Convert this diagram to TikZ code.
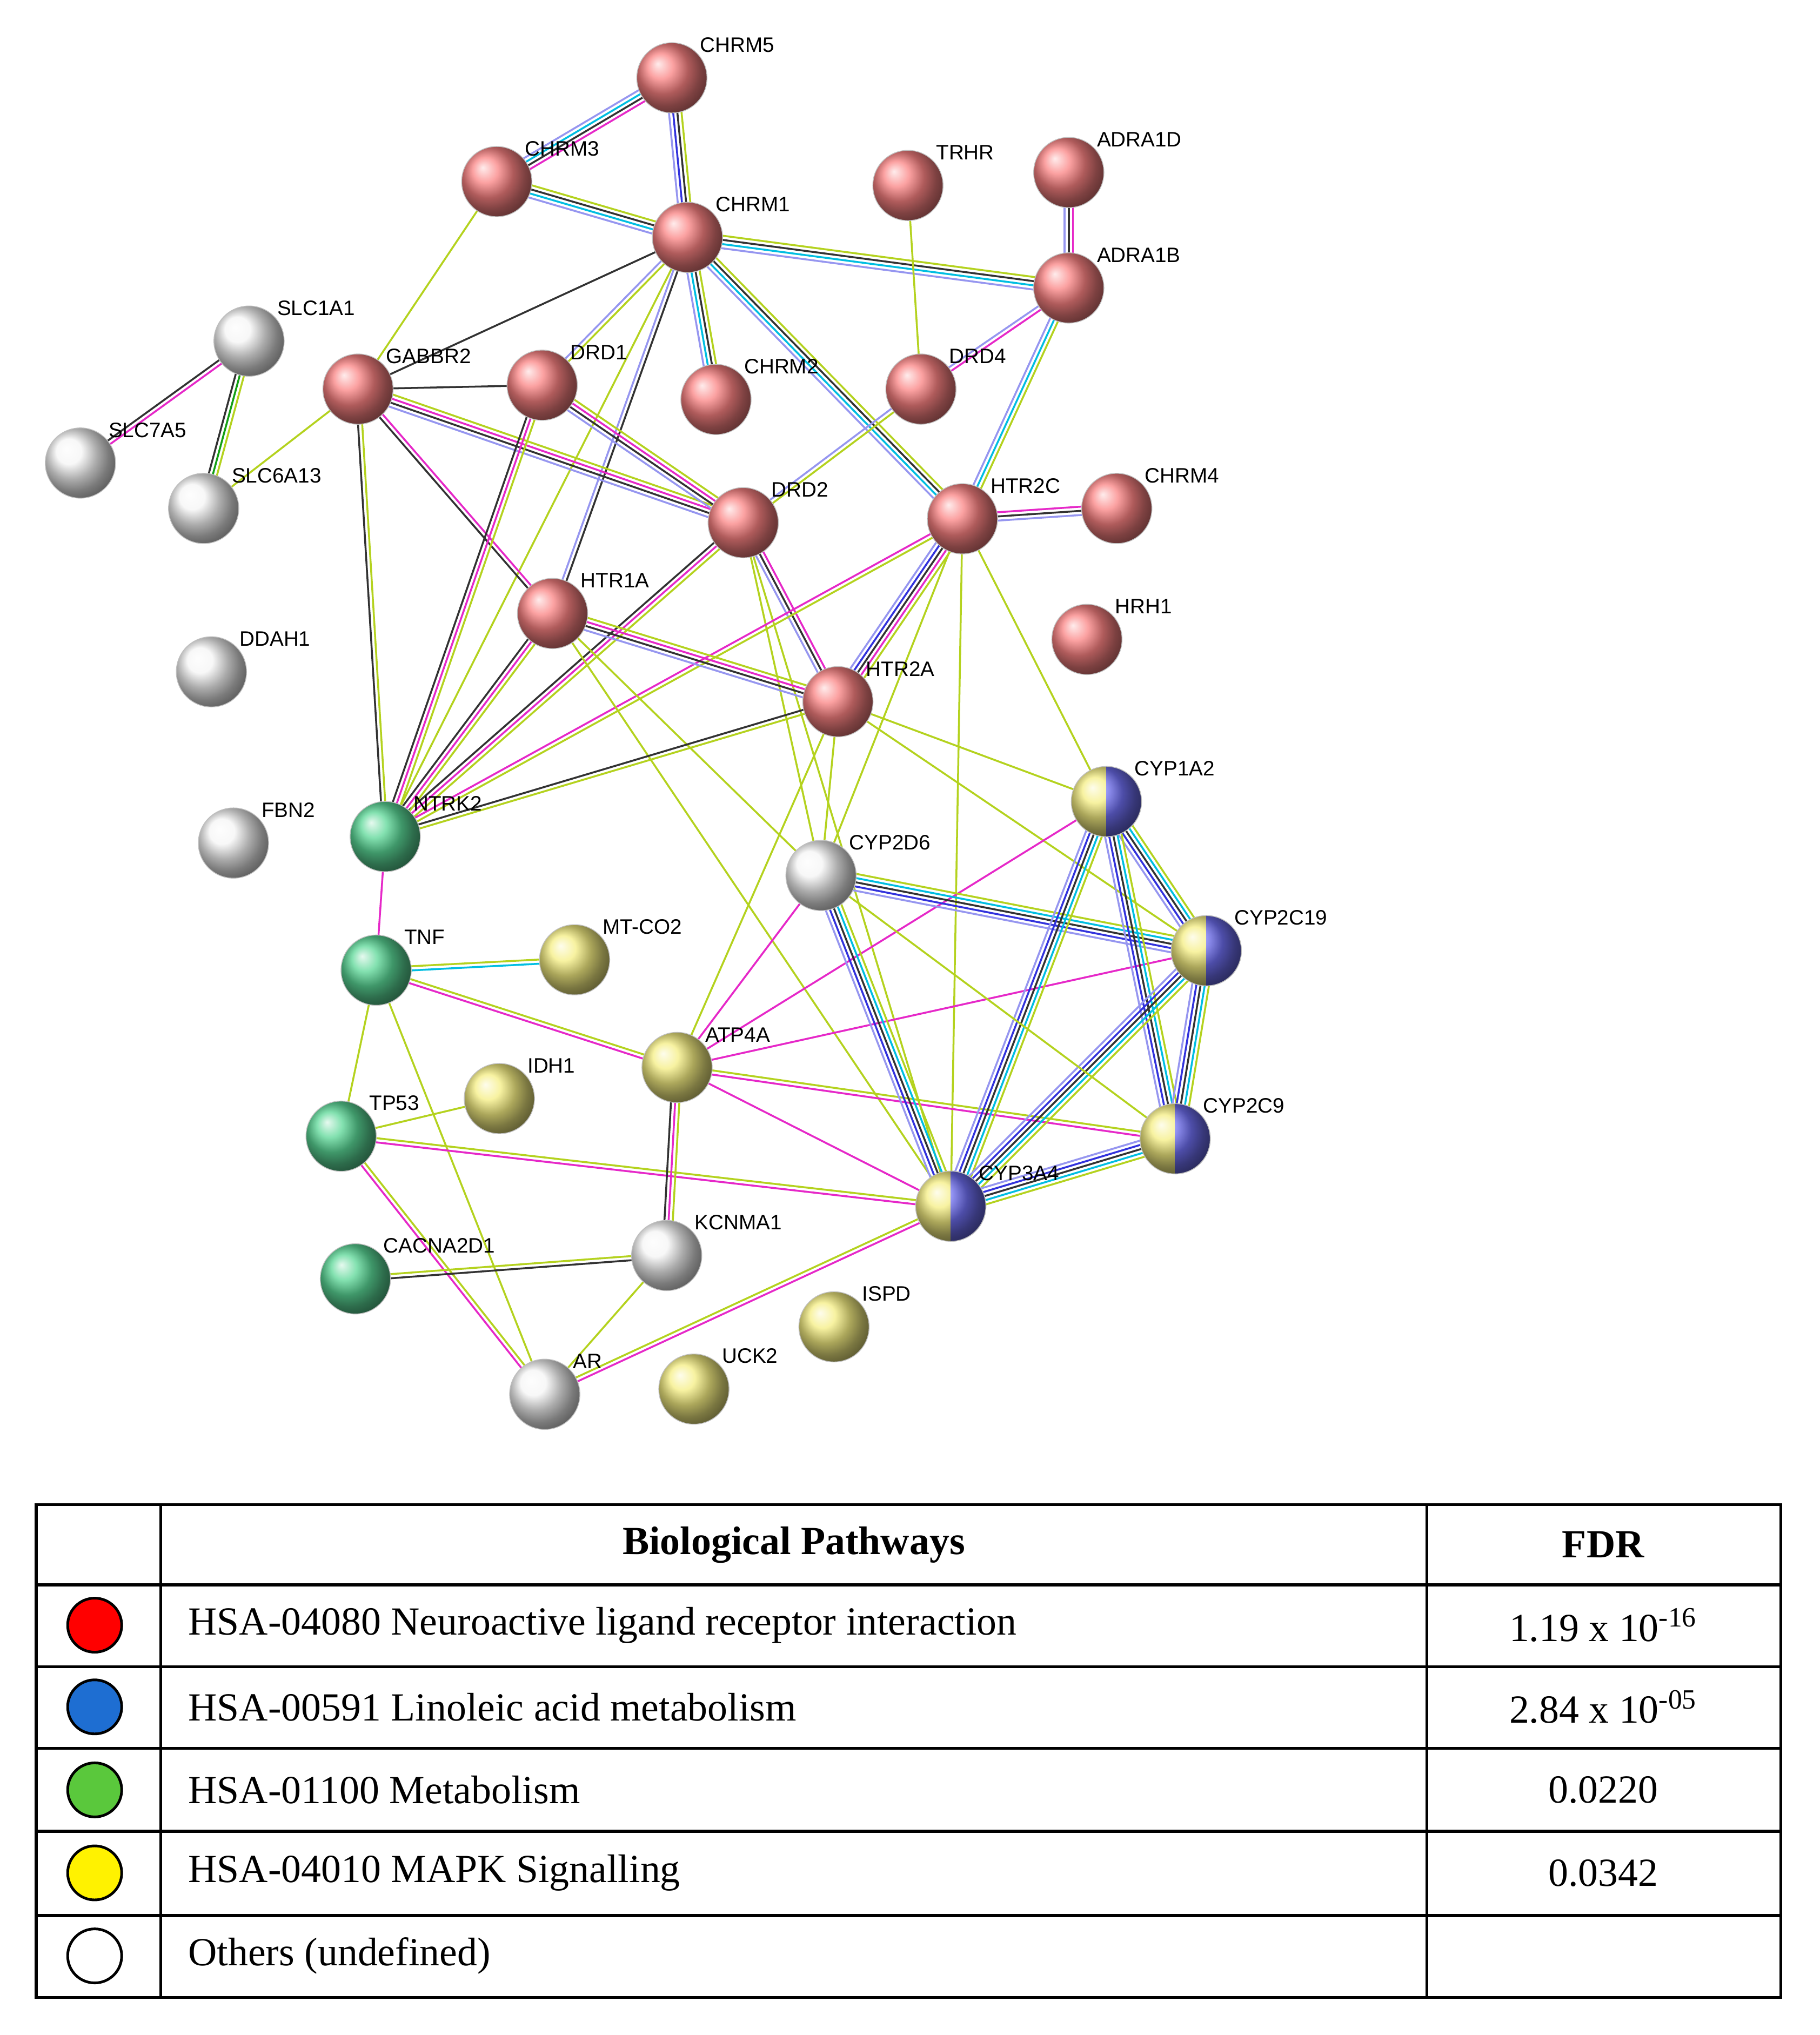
\documentclass[tikz,border=0pt]{standalone}
\usepackage{fontspec}
\setmainfont{Liberation Serif}
\newfontfamily\lblfont{Liberation Sans}
\usetikzlibrary{calc}
\definecolor{yg}{RGB}{180,210,30}
\definecolor{dk}{RGB}{50,50,50}
\definecolor{mg}{RGB}{230,40,200}
\definecolor{cy}{RGB}{0,190,225}
\definecolor{bl}{RGB}{50,50,220}
\definecolor{lv}{RGB}{150,150,240}
\definecolor{gr}{RGB}{20,160,20}
\definecolor{rd}{RGB}{250,130,130}
\definecolor{gn}{RGB}{90,215,150}
\definecolor{ye}{RGB}{245,238,130}
\definecolor{bu}{RGB}{110,110,240}
\definecolor{wh}{RGB}{245,245,245}
\newcommand{\E}[3]{\foreach \o/\c in {#3}{\draw[\c,line width=1pt] ($(#1)!\o pt!90:(#2)$) -- ($(#2)!\o pt!-90:(#1)$);}}
\newcommand{\EY}[2]{\E{#1}{#2}{-4.4/lv,-2.2/bl,0/dk,2.2/cy,4.4/yg}}
\begin{document}
\begin{tikzpicture}[x=0.024cm,y=-0.024cm,
  prot/.style={circle,minimum size=1.3cm,inner sep=0pt,shading=ball,draw=gray!50,line width=0.4pt},
  lbl/.style={font=\lblfont\fontsize{11}{13}\selectfont,anchor=south west,inner sep=1pt},
  tx/.style={font=\fontsize{21}{25}\selectfont}]
\useasboundingbox (0,0) rectangle (1403,1569);
\fill[white] (0,0) rectangle (1403,1569);
% coordinates
\foreach \n/\x/\y in {CHRM5/518/60,CHRM3/383/140,CHRM1/530/183,TRHR/700/143,ADRA1D/824/133,ADRA1B/824/222,SLC1A1/192/263,GABBR2/276/300,DRD1/418/297,CHRM2/552/308,DRD4/710/300,SLC7A5/62/357,SLC6A13/157/392,DRD2/573/403,HTR2C/742/400,CHRM4/861/392,HTR1A/426/473,HRH1/838/493,DDAH1/163/518,HTR2A/646/541,CYP1A2/853/618,FBN2/180/650,NTRK2/297/645,CYP2D6/633/675,CYP2C19/930/733,TNF/290/748,MT-CO2/443/740,ATP4A/522/823,IDH1/385/847,TP53/263/876,CYP2C9/906/878,CYP3A4/733/930,KCNMA1/514/968,CACNA2D1/274/986,ISPD/643/1023,UCK2/535/1071,AR/420/1075}
  {\coordinate (\n) at (\x,\y);}
% edges
\E{CHRM5}{CHRM3}{-3.3/lv,-1.1/cy,1.1/dk,3.3/mg}
\E{CHRM5}{CHRM1}{-3.3/lv,-1.1/bl,1.1/dk,3.3/yg}
\E{CHRM3}{CHRM1}{-3.3/lv,-1.1/cy,1.1/dk,3.3/yg}
\E{CHRM3}{GABBR2}{0/yg}
\E{CHRM1}{GABBR2}{0/dk}
\E{CHRM1}{ADRA1B}{-3.3/lv,-1.1/cy,1.1/dk,3.3/yg}
\E{CHRM1}{DRD1}{-1.1/lv,1.1/yg}
\E{CHRM1}{CHRM2}{-3.3/lv,-1.1/cy,1.1/dk,3.3/yg}
\E{CHRM1}{HTR1A}{-1.1/lv,1.1/dk}
\E{CHRM1}{NTRK2}{0/yg}
\E{CHRM1}{HTR2C}{-3.3/lv,-1.1/cy,1.1/dk,3.3/yg}
\E{TRHR}{DRD4}{0/yg}
\E{ADRA1D}{ADRA1B}{-2.2/lv,0/dk,2.2/mg}
\E{ADRA1B}{DRD4}{-1.1/lv,1.1/mg}
\E{ADRA1B}{HTR2C}{-2.2/lv,0/cy,2.2/yg}
\E{DRD4}{DRD2}{-1.1/lv,1.1/yg}
\E{SLC1A1}{SLC7A5}{-1.1/dk,1.1/mg}
\E{SLC1A1}{SLC6A13}{-2.2/dk,0/gr,2.2/yg}
\E{GABBR2}{SLC6A13}{0/yg}
\E{GABBR2}{DRD1}{0/dk}
\E{GABBR2}{DRD2}{-3.3/lv,-1.1/dk,1.1/mg,3.3/yg}
\E{GABBR2}{HTR1A}{-1.1/dk,1.1/mg}
\E{GABBR2}{NTRK2}{-1.1/dk,1.1/yg}
\E{DRD1}{DRD2}{-3.3/lv,-1.1/dk,1.1/mg,3.3/yg}
\E{DRD1}{NTRK2}{-2.2/dk,0/mg,2.2/yg}
\E{DRD2}{HTR2A}{-2.2/lv,0/dk,2.2/mg}
\E{DRD2}{NTRK2}{-2.2/dk,0/mg,2.2/yg}
\E{DRD2}{CYP2D6}{0/yg}
\E{DRD2}{CYP3A4}{0/yg}
\E{HTR2C}{CHRM4}{-2.2/lv,0/dk,2.2/mg}
\E{HTR2C}{HTR2A}{-4.4/lv,-2.2/bl,0/dk,2.2/mg,4.4/yg}
\E{HTR2C}{NTRK2}{-1.1/mg,1.1/yg}
\E{HTR2C}{CYP1A2}{0/yg}
\E{HTR2C}{CYP3A4}{0/yg}
\E{HTR2C}{CYP2D6}{0/yg}
\E{HTR1A}{HTR2A}{-3.3/lv,-1.1/dk,1.1/mg,3.3/yg}
\E{HTR1A}{NTRK2}{-2.2/dk,0/mg,2.2/yg}
\E{HTR1A}{CYP3A4}{0/yg}
\E{HTR1A}{CYP2D6}{0/yg}
\E{HTR2A}{NTRK2}{-1.1/dk,1.1/yg}
\E{HTR2A}{CYP1A2}{0/yg}
\E{HTR2A}{CYP2C19}{0/yg}
\E{HTR2A}{CYP2D6}{0/yg}
\E{HTR2A}{ATP4A}{0/yg}
\E{NTRK2}{TNF}{0/mg}
\E{TNF}{MT-CO2}{-1.1/cy,1.1/yg}
\E{TNF}{ATP4A}{-1.1/mg,1.1/yg}
\E{TNF}{TP53}{0/yg}
\E{TNF}{AR}{0/yg}
\E{TP53}{IDH1}{0/yg}
\E{TP53}{CYP3A4}{-1.1/mg,1.1/yg}
\E{TP53}{AR}{-1.1/mg,1.1/yg}
\E{CACNA2D1}{KCNMA1}{-1.1/dk,1.1/yg}
\E{KCNMA1}{AR}{0/yg}
\E{AR}{CYP3A4}{-1.1/mg,1.1/yg}
\E{ATP4A}{KCNMA1}{-2.2/dk,0/mg,2.2/yg}
\E{ATP4A}{CYP2D6}{0/mg}
\E{ATP4A}{CYP1A2}{0/mg}
\E{ATP4A}{CYP2C19}{0/mg}
\E{ATP4A}{CYP2C9}{-1.1/mg,1.1/yg}
\E{ATP4A}{CYP3A4}{0/mg}
\EY{CYP2D6}{CYP2C19}
\EY{CYP2D6}{CYP3A4}
\EY{CYP1A2}{CYP2C19}
\EY{CYP1A2}{CYP3A4}
\EY{CYP1A2}{CYP2C9}
\EY{CYP2C19}{CYP2C9}
\EY{CYP2C19}{CYP3A4}
\EY{CYP2C9}{CYP3A4}
\E{CYP2D6}{CYP2C9}{0/yg}
% nodes
\foreach \n in {CHRM5,CHRM3,CHRM1,TRHR,ADRA1D,ADRA1B,GABBR2,DRD1,CHRM2,DRD4,DRD2,HTR2C,CHRM4,HTR1A,HRH1,HTR2A}
  {\node[prot,ball color=rd] (n\n) at (\n) {}; \node[lbl] at ($(\n)+(20,-18)$) {\n};}
\foreach \n in {SLC1A1,SLC7A5,SLC6A13,DDAH1,FBN2,CYP2D6,KCNMA1,AR}
  {\node[prot,ball color=wh] (n\n) at (\n) {}; \node[lbl] at ($(\n)+(20,-18)$) {\n};}
\foreach \n in {NTRK2,TNF,TP53,CACNA2D1}
  {\node[prot,ball color=gn] (n\n) at (\n) {}; \node[lbl] at ($(\n)+(20,-18)$) {\n};}
\foreach \n in {MT-CO2,ATP4A,IDH1,ISPD,UCK2}
  {\node[prot,ball color=ye] (n\n) at (\n) {}; \node[lbl] at ($(\n)+(20,-18)$) {\n};}
\foreach \n in {CYP1A2,CYP2C19,CYP2C9,CYP3A4}
  {\node[prot,ball color=ye] (n\n) at (\n) {};
   \begin{scope}\clip ($(\n)+(0,-30)$) rectangle ($(\n)+(30,30)$);
   \node[prot,ball color=bu] at (\n) {};\end{scope}
   \node[lbl] at ($(\n)+(20,-18)$) {\n};}
% table
\draw[line width=1.6pt] (28,1160) rectangle (1373,1540);
\foreach \y in {1222,1285,1348,1412,1477} \draw[line width=1.6pt] (28,\y) -- (1373,\y);
\foreach \x in {124,1100} \draw[line width=1.6pt] (\x,1160) -- (\x,1540);
\node[font=\fontsize{21}{25}\selectfont\bfseries] (h1) at (612,1191) {Biological Pathways};
\node[font=\fontsize{21}{25}\selectfont\bfseries] (h2) at (1236,1191) {FDR};
\foreach \y/\c/\t/\f in {1253/red/{HSA-04080 Neuroactive ligand receptor interaction}/{1.19 x 10\textsuperscript{-16}},
  1316/{rgb,255:red,30;green,110;blue,210}/{HSA-00591 Linoleic acid metabolism}/{2.84 x 10\textsuperscript{-05}},
  1380/{rgb,255:red,90;green,200;blue,60}/{HSA-01100 Metabolism}/{0.0220},
  1444/yellow/{HSA-04010 MAPK Signalling}/{0.0342},
  1508/white/{Others (undefined)}/{}}
{\node[circle,minimum size=1cm,draw=black,line width=1.4pt,fill=\c] at (73,\y) {};
 \node[tx,anchor=west] at (140,\y) {\t};
 \node[tx] at (1236,\y) {\f};}
\end{tikzpicture}
\end{document}
